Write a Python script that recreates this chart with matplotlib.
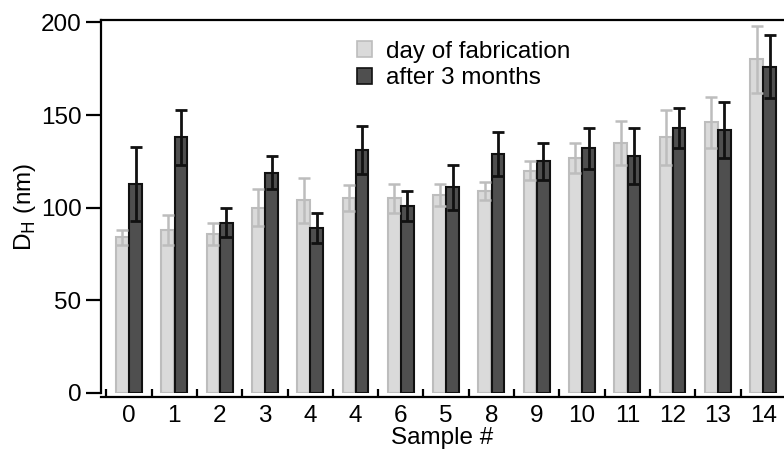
import matplotlib
matplotlib.use('Agg')
import matplotlib.pyplot as plt
from matplotlib.patches import Patch
import numpy as np

plt.rcParams['font.family'] = ['Liberation Sans', 'DejaVu Sans']

# sample labels as printed on the x axis
sample_labels = ['0', '1', '2', '3', '4', '4', '6', '5', '8', '9', '10', '11', '12', '13', '14']

# hydrodynamic diameter (nm), day of fabrication
day0_mean = [84, 88, 86, 100, 104, 105, 105, 107, 109, 120, 127, 135, 138, 146, 180]
day0_err = [4, 8, 6, 10, 12, 7, 8, 6, 5, 5, 8, 12, 15, 14, 18]

# hydrodynamic diameter (nm), after 3 months
month3_mean = [113, 138, 92, 119, 89, 131, 101, 111, 129, 125, 132, 128, 143, 142, 176]
month3_err = [20, 15, 8, 9, 8, 13, 8, 12, 12, 10, 11, 15, 11, 15, 17]

light_fill = '#dadada'
light_edge = '#bdbdbd'
dark_fill = '#4f4f4f'
dark_edge = '#111111'
fs = 17.5

fig = plt.figure(figsize=(7.84, 4.53), dpi=100)
ax = fig.add_axes([0.1288, 0.1325, 0.8712, 0.8233])

x = np.arange(len(sample_labels))
w = 0.28
off = 0.145

ax.bar(x - off, day0_mean, width=w, color=light_fill, edgecolor=light_edge, linewidth=1.5, zorder=2)
ax.errorbar(x - off, day0_mean, yerr=day0_err, fmt='none', ecolor=light_edge,
            elinewidth=1.8, capsize=4, capthick=1.8, zorder=3)

ax.bar(x + off, month3_mean, width=w, color=dark_fill, edgecolor=dark_edge, linewidth=1.5, zorder=2)
ax.errorbar(x + off, month3_mean, yerr=month3_err, fmt='none', ecolor=dark_edge,
            elinewidth=2.0, capsize=4, capthick=2.0, zorder=3)

ax.set_xlim(-0.62, 14.46)
ax.set_ylim(0, 201.3)

# x axis: labels at group centres, ticks between groups pointing in
ax.set_xticks(x)
ax.set_xticklabels(sample_labels)
ax.set_xticks(np.arange(-0.5, 14.5, 1.0), minor=True)
ax.tick_params(axis='x', which='major', length=0, pad=6, labelsize=fs)
ax.tick_params(axis='x', which='minor', direction='in', length=6, width=1.6)

ax.set_yticks([0, 50, 100, 150, 200])
ax.tick_params(axis='y', direction='out', length=11, width=1.6, labelsize=fs, pad=3)

ax.spines['right'].set_visible(False)
for s in ['left', 'top', 'bottom']:
    ax.spines[s].set_linewidth(1.6)
ax.spines['bottom'].set_position(('outward', 3))

ax.set_xlabel('Sample #', fontsize=fs, labelpad=0)
ax.set_ylabel('D$_\\mathrm{H}$ (nm)', fontsize=fs, labelpad=2)

handles = [Patch(facecolor=light_fill, edgecolor=light_edge, linewidth=1.2),
           Patch(facecolor=dark_fill, edgecolor=dark_edge, linewidth=1.2)]
ax.legend(handles, ['day of fabrication', 'after 3 months'], loc='upper left',
          bbox_to_anchor=(0.375, 0.945), frameon=False, fontsize=fs,
          handlelength=0.6, handleheight=0.6, handletextpad=0.6,
          labelspacing=0.2, borderpad=0, borderaxespad=0)

fig.savefig('out.png', dpi=100)
